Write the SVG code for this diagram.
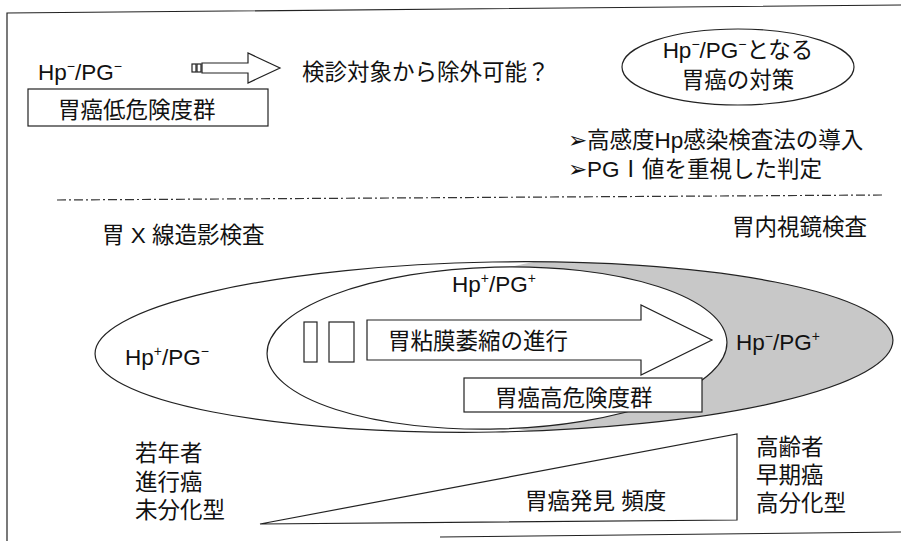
<svg xmlns="http://www.w3.org/2000/svg" width="901" height="542" viewBox="0 0 901 542">
<style>
text{font-family:"Liberation Sans","Noto Sans CJK JP",sans-serif;fill:#111;font-size:22.5px}
.ln{fill:none;stroke:#222;stroke-width:1.2}
.wb{fill:#fff;stroke:#222;stroke-width:1.2}
.sup{font-size:14px}
</style>
<defs>
<clipPath id="clipA"><ellipse cx="494" cy="347" rx="399" ry="85" transform="rotate(-1 494 347)"/></clipPath>
</defs>
<rect width="901" height="542" fill="#fff"/>
<g id="frame">
<path class="ln" d="M901 5 L7 13 L7 541"/>
<path class="ln" d="M440 537 L901 532"/>
<path d="M57 200 L883 195" fill="none" stroke="#333" stroke-width="1.2" stroke-dasharray="9 3 2 3"/>
</g>
<g id="top-left">
<text x="38" y="80" font-size="23">Hp<tspan class="sup" dy="-9">−</tspan><tspan dy="9">/PG</tspan><tspan class="sup" dy="-9">−</tspan></text>
<rect class="wb" x="28" y="89" width="240" height="37"/>
<text x="58" y="118" font-size="24">胃癌低危険度群</text>
</g>
<g id="small-arrow">
<rect class="wb" x="192" y="64" width="4" height="8"/>
<rect class="wb" x="197" y="64" width="4" height="8"/>
<path class="wb" d="M202 63 L248 63 L248 53 L280 68 L248 83 L248 73 L202 73 Z"/>
</g>
<g id="exclude">
<text x="302" y="80">検診対象から除外可能？</text>
</g>
<g id="measures">
<ellipse class="wb" cx="738" cy="67" rx="116" ry="38"/>
<text x="738" y="58" text-anchor="middle" font-size="23">Hp<tspan class="sup" dy="-9">−</tspan><tspan dy="9">/PG</tspan><tspan class="sup" dy="-9">−</tspan><tspan dy="9">となる</tspan></text>
<text x="738" y="88" text-anchor="middle" font-size="23">胃癌の対策</text>
</g>
<g id="bullets">
<text x="568" y="148">➢高感度Hp感染検査法の導入</text>
<text x="568" y="177">➢PGⅠ値を重視した判定</text>
</g>
<g id="labels">
<text x="102" y="243" font-size="23">胃 X 線造影検査</text>
<text x="732" y="235" font-size="24">胃内視鏡検査</text>
</g>
<g id="ellipse-A">
<ellipse cx="494" cy="347" rx="399" ry="85" transform="rotate(-1 494 347)" fill="#fff"/>
</g>
<g id="ellipse-C">
<ellipse cx="645" cy="347" rx="250" ry="95" fill="#c8c8c8" clip-path="url(#clipA)"/>
</g>
<g id="ellipse-B">
<ellipse class="wb" cx="497" cy="348" rx="230" ry="81" transform="rotate(-1.5 497 348)"/>
</g>
<g id="ellipse-A-outline">
<ellipse class="ln" cx="494" cy="347" rx="399" ry="85" transform="rotate(-1 494 347)"/>
</g>
<g id="hp-labels">
<text x="125" y="365" font-size="22">Hp<tspan class="sup" dy="-9">+</tspan><tspan dy="9">/PG</tspan><tspan class="sup" dy="-9">−</tspan></text>
<text x="452" y="292" font-size="22">Hp<tspan class="sup" dy="-9">+</tspan><tspan dy="9">/PG</tspan><tspan class="sup" dy="-9">+</tspan></text>
<text x="736" y="350" font-size="22">Hp<tspan class="sup" dy="-9">−</tspan><tspan dy="9">/PG</tspan><tspan class="sup" dy="-9">+</tspan></text>
</g>
<g id="atrophy-arrow">
<rect class="wb" x="304" y="322" width="13" height="40"/>
<rect class="wb" x="329" y="322" width="25" height="40"/>
<path class="wb" d="M367 320 L641 320 L641 305 L712 340 L641 375 L641 360 L367 360 Z"/>
<text x="388" y="349">胃粘膜萎縮の進行</text>
</g>
<g id="high-risk">
<rect class="wb" x="464" y="378" width="238" height="34"/>
<text x="495" y="406" font-size="23.5">胃癌高危険度群</text>
</g>
<g id="frequency">
<path class="ln" d="M260 524 L737 434 L737 520 Z"/>
<text x="525" y="509">胃癌発見 頻度</text>
</g>
<g id="young">
<text x="135" y="461">若年者</text>
<text x="135" y="490">進行癌</text>
<text x="135" y="518">未分化型</text>
</g>
<g id="old">
<text x="756" y="455">高齢者</text>
<text x="756" y="483">早期癌</text>
<text x="756" y="511">高分化型</text>
</g>
</svg>
